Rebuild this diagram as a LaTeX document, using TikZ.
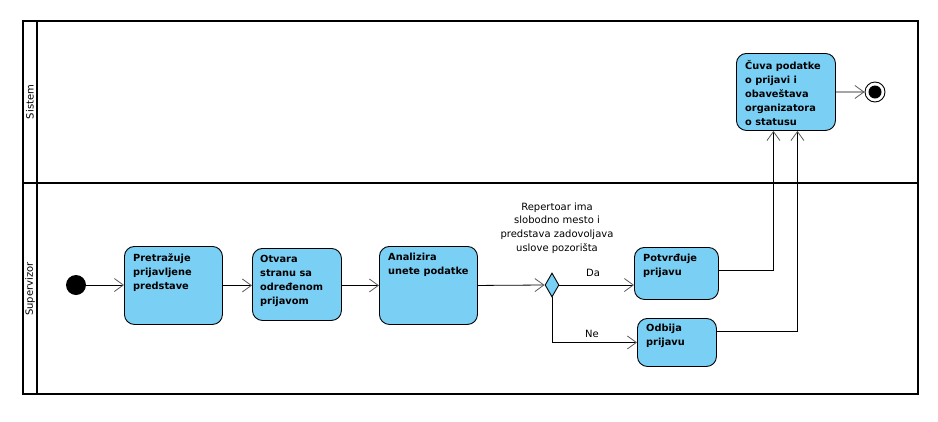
\documentclass[tikz,border=0pt]{standalone}
\usepackage{fontspec}
\setmainfont{DejaVu Sans}
\usetikzlibrary{arrows.meta,shapes.geometric}
\definecolor{actfill}{RGB}{122,207,245}
\begin{document}
\begin{tikzpicture}[x=1pt,y=-1pt,
  act/.style={draw=black, line width=0.9pt, fill=actfill, rounded corners=10pt, anchor=north west, inner sep=0pt, rectangle},
  acttext/.style={anchor=north west, align=left, font=\bfseries\fontsize{9.8}{14}\selectfont, inner sep=0pt},
  lane/.style={line width=1.8pt},
  lanelabel/.style={rotate=90, font=\fontsize{10}{12}\selectfont, inner sep=0pt},
  flow/.style={line width=0.8pt, -{Straight Barb[length=9pt,width=13pt,line width=0.8pt,color=black!65]}},
  guard/.style={font=\fontsize{10}{13.7}\selectfont, align=center, inner sep=0pt}]
\useasboundingbox (0,0) rectangle (938,421);
% swimlanes
\draw[lane] (23,21) rectangle (918,394);
\draw[lane] (37,21) -- (37,394);
\draw[lane] (23,183) -- (918,183);
\node[lanelabel] (l1) at (30,102) {Sistem};
\node[lanelabel] (l2) at (30,289) {Supervizor};
% nodes
\node[circle, fill=black, minimum size=20pt, inner sep=0pt] (s) at (76,285) {};
\node[act, minimum width=98pt, minimum height=78pt] (p) at (124,246) {};
\node[acttext] (pt) at ([xshift=9pt,yshift=-7pt]p.north west) {Pretražuje\\prijavljene\\predstave};
\node[act, minimum width=89pt, minimum height=72pt] (o) at (252,248) {};
\node[acttext] (ot) at ([xshift=8pt,yshift=-7pt]o.north west) {Otvara\\stranu sa\\određenom\\prijavom};
\node[act, minimum width=98pt, minimum height=78pt] (a) at (379,246) {};
\node[acttext] (at) at ([xshift=9pt,yshift=-7pt]a.north west) {Analizira\\unete podatke};
\node[diamond, draw=black, line width=0.9pt, fill=actfill, minimum width=14pt, minimum height=24pt, inner sep=0pt] (d) at (552,285) {};
\node[guard] (g) at (557,228) {Repertoar ima\\slobodno mesto i\\predstava zadovoljava\\uslove pozorišta};
\node[act, minimum width=84pt, minimum height=52pt] (pv) at (634,247) {};
\node[acttext] (pvt) at ([xshift=9pt,yshift=-7pt]pv.north west) {Potvrđuje\\prijavu};
\node[act, minimum width=79pt, minimum height=48pt] (od) at (637,318) {};
\node[acttext] (odt) at ([xshift=9pt,yshift=-6pt]od.north west) {Odbija\\prijavu};
\node[act, minimum width=99pt, minimum height=77pt] (c) at (736,53) {};
\node[acttext] (ct) at ([xshift=9pt,yshift=-7pt]c.north west) {Čuva podatke\\o prijavi i\\obaveštava\\organizatora\\o statusu};
\node[circle, draw=black, line width=0.9pt, fill=white, minimum size=20pt, inner sep=0pt] (e) at (875,92) {};
\fill[black] (e.center) circle (6.5pt);
% labels
\node[font=\fontsize{10}{12}\selectfont, inner sep=0pt] (da) at (593,273) {Da};
\node[font=\fontsize{10}{12}\selectfont, inner sep=0pt] (ne) at (592,334) {Ne};
% flows
\draw[flow] (s) -- (p.west |- s);
\draw[flow] (p.east) -- (p.east -| o.west);
\draw[flow] (o.east |- a.east) -- (a.west);
\draw[flow] (a.east) -- (d.west);
\draw[flow] (d.east) -- (d.east -| pv.west);
\draw[flow] (d.south) |- (od.west);
\draw[flow] ([yshift=3pt]pv.east) -| ([xshift=-12.5pt]c.south);
\draw[flow] ([yshift=11pt]od.east) -| ([xshift=11.5pt]c.south);
\draw[flow] (c.east) -- (e.west);
\end{tikzpicture}
\end{document}
